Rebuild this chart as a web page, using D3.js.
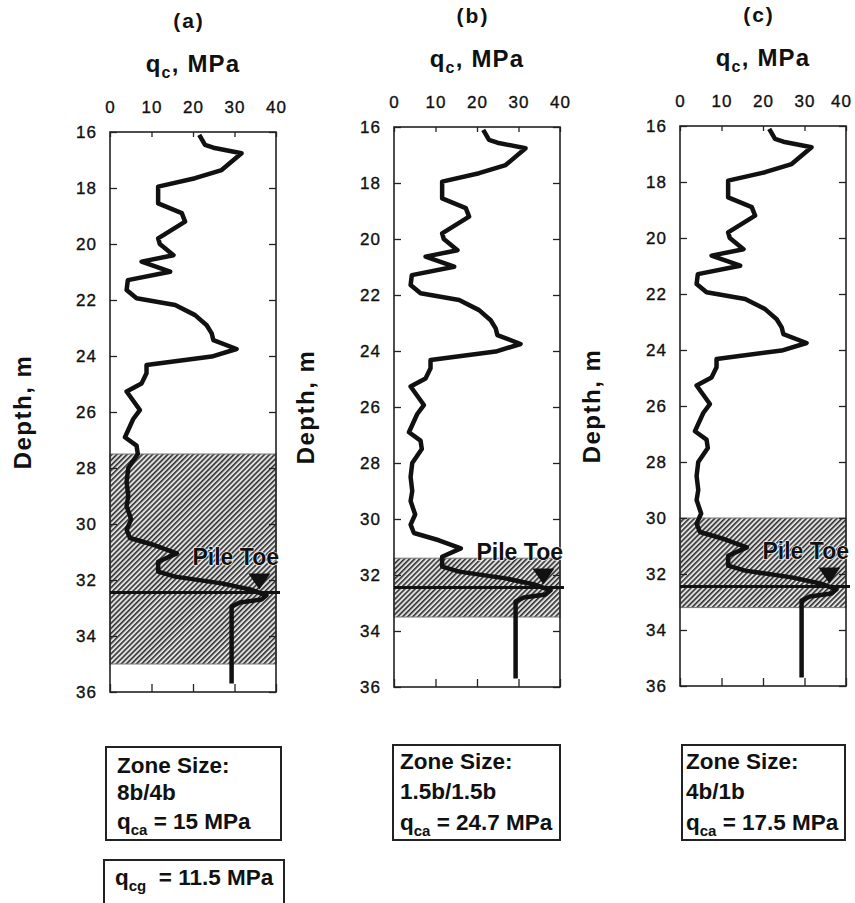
<!DOCTYPE html>
<html>
<head>
<meta charset="utf-8">
<script src="https://cdn.jsdelivr.net/npm/d3@7"></script>
<style>
  html, body { margin: 0; padding: 0; background: #fff; }
  svg { display: block; font-family: "Liberation Sans", Arial, sans-serif; }
</style>
</head>
<body>
<div id="chart"></div>
<script>
// ---- data ----
const depth = [16.1, 16.46, 16.56, 16.76, 17.36, 17.65, 17.95, 18.55, 18.9, 19.2, 19.8, 20.0, 20.4, 20.63, 20.99, 21.29, 21.64, 21.94, 22.18, 22.54, 22.9, 23.19, 23.43, 23.75, 24.02, 24.32, 24.62, 24.98, 25.27, 25.93, 26.25, 26.9, 27.2, 27.5, 28.0, 28.5, 29.0, 29.36, 29.84, 30.2, 30.5, 30.76, 31.05, 31.35, 31.7, 31.88, 32.12, 32.35, 32.55, 32.7, 32.8, 32.95, 35.7];
const qc = [21.5, 22.9, 24.9, 31.7, 26.9, 20.5, 11.6, 11.6, 17.3, 18.1, 11.6, 12.0, 15.3, 7.6, 14.5, 4.3, 4.0, 6.4, 15.7, 20.5, 23.3, 24.5, 24.9, 30.5, 24.5, 8.8, 8.8, 7.6, 4.0, 7.2, 5.6, 3.6, 6.4, 6.7, 4.4, 4.0, 4.4, 4.0, 5.1, 4.0, 4.8, 10.8, 16.1, 11.6, 11.6, 15.7, 26.9, 34.1, 37.7, 36.5, 31.3, 29.3, 29.3];
const panelLabels = ["(a)", "(b)", "(c)"];
const zoneTop = [27.5, 31.4, 30.0];
const zoneBottom = [35.0, 33.5, 33.2];
const zoneSizes = ["8b/4b", "1.5b/1.5b", "4b/1b"];
const qcaValues = ["15", "24.7", "17.5"];
const qcgValue = "11.5";
const pileToeDepth = 32.45;
const pileToeMarkerQ = 36;
const xTickValues = [0, 10, 20, 30, 40];
const yTickValues = [16, 18, 20, 22, 24, 26, 28, 30, 32, 34, 36];

// ---- layout ----
const W = 855, H = 903;
const plots = [
  {left: 110, right: 276, top: 132, bottom: 692, depthX: 31},
  {left: 394, right: 560, top: 127, bottom: 687, depthX: 314},
  {left: 680, right: 846, top: 126, bottom: 686, depthX: 600}
];
const boxes = [
  {x: 106, y: 747, w: 175, h: 93, tx: 117, lines: [773, 800, 829]},
  {x: 393, y: 745, w: 167, h: 95, tx: 400, lines: [769, 799, 830]},
  {x: 682, y: 745, w: 163, h: 95, tx: 686, lines: [769, 799, 830]}
];

const svg = d3.select("#chart").append("svg").attr("width", W).attr("height", H);

const defs = svg.append("defs");
const pat = defs.append("pattern")
  .attr("id", "hatch").attr("patternUnits", "userSpaceOnUse")
  .attr("width", 3.6).attr("height", 3.6)
  .attr("patternTransform", "rotate(45)");
pat.append("rect").attr("width", 3.6).attr("height", 3.6).attr("fill", "#e0e0e0");
pat.append("line").attr("x1", 0.8).attr("y1", 0).attr("x2", 0.8).attr("y2", 3.6)
  .attr("stroke", "#333").attr("stroke-width", 1.6);

plots.forEach((p, i) => {
  const x = d3.scaleLinear().domain([0, 40]).range([p.left, p.right]);
  const y = d3.scaleLinear().domain([16, 36]).range([p.top, p.bottom]);
  const g = svg.append("g");

  // zone
  g.append("rect")
    .attr("x", x(0)).attr("width", x(40) - x(0))
    .attr("y", y(zoneTop[i])).attr("height", y(zoneBottom[i]) - y(zoneTop[i]))
    .attr("fill", "url(#hatch)").attr("stroke", "#777").attr("stroke-width", 1);

  // axes
  const left = g.append("g").attr("transform", `translate(${p.left},0)`)
    .call(d3.axisLeft(y).tickValues(yTickValues).tickSize(-7).tickPadding(13));
  const right = g.append("g").attr("transform", `translate(${p.right},0)`)
    .call(d3.axisRight(y).tickValues(yTickValues).tickSize(-7).tickFormat(""));
  const top = g.append("g").attr("transform", `translate(0,${p.top})`)
    .call(d3.axisTop(x).tickValues(xTickValues).tickSize(-5).tickPadding(19));
  const bottom = g.append("g").attr("transform", `translate(0,${p.bottom})`)
    .call(d3.axisBottom(x).tickValues(xTickValues).tickSize(-8).tickFormat(""));
  [left, right, top, bottom].forEach(a => {
    a.select(".domain").remove();
    a.selectAll("line").attr("stroke", "#222").attr("stroke-width", 1.3);
    a.selectAll("text").attr("fill", "#111").attr("font-size", 17)
      .attr("stroke", "#111").attr("stroke-width", 0.35)
      .attr("letter-spacing", 1).attr("font-family", "'Liberation Sans', Arial, sans-serif");
  });
  left.selectAll("text").attr("dy", "0.34em");
  if (i === 2) top.selectAll("text").filter(d => d === 40).attr("dx", -5);

  // frame
  g.append("rect").attr("x", p.left).attr("y", p.top)
    .attr("width", p.right - p.left).attr("height", p.bottom - p.top)
    .attr("fill", "none").attr("stroke", "#222").attr("stroke-width", 1.6);

  // curve
  const pts = depth.map((d, k) => [qc[k], d]);
  g.append("path").datum(pts)
    .attr("d", d3.line().x(d => x(d[0])).y(d => y(d[1])))
    .attr("fill", "none").attr("stroke", "#111").attr("stroke-width", 4.5)
    .attr("stroke-linejoin", "round").attr("stroke-linecap", "butt");

  // pile toe line
  g.append("line").attr("x1", x(0)).attr("x2", x(40) + 4)
    .attr("y1", y(pileToeDepth)).attr("y2", y(pileToeDepth))
    .attr("stroke", "#111").attr("stroke-width", 3);

  // marker
  const ty = y(pileToeDepth) - 3, tx = x(pileToeMarkerQ);
  g.append("path").attr("d", `M${tx - 11},${ty - 16} L${tx + 11},${ty - 16} L${tx},${ty} Z`)
    .attr("fill", "#111");

  g.append("text").attr("x", x(40) + 3).attr("y", y(pileToeDepth) - 28)
    .attr("text-anchor", "end").attr("font-size", 23).attr("font-weight", "bold")
    .attr("fill", "#111").attr("stroke", "#fff").attr("stroke-width", 1.2)
    .attr("paint-order", "stroke")
    .text("Pile Toe");

  // titles
  const cx = (p.left + p.right) / 2;
  svg.append("text").attr("x", cx - 4).attr("y", p.top - 104)
    .attr("text-anchor", "middle").attr("font-size", 21).attr("font-weight", "bold")
    .attr("letter-spacing", 2).attr("fill", "#111").text(panelLabels[i]);

  const t = svg.append("text").attr("x", cx).attr("y", p.top - 60)
    .attr("text-anchor", "middle").attr("font-size", 24).attr("font-weight", "bold")
    .attr("letter-spacing", 1.2).attr("fill", "#111");
  t.append("tspan").text("q");
  t.append("tspan").attr("font-size", 16).attr("dy", 6).text("c");
  t.append("tspan").attr("dy", -6).text(", MPa");

  // depth label
  svg.append("text")
    .attr("transform", `translate(${p.depthX},${(p.top + p.bottom) / 2}) rotate(-90)`)
    .attr("text-anchor", "middle").attr("font-size", 24).attr("font-weight", "bold")
    .attr("letter-spacing", 1.5).attr("fill", "#111").text("Depth, m");

  // info box
  const b = boxes[i];
  svg.append("rect").attr("x", b.x).attr("y", b.y).attr("width", b.w).attr("height", b.h)
    .attr("fill", "none").attr("stroke", "#222").attr("stroke-width", 2);
  const fs = {"font-size": 22.5, "font-weight": "bold", "fill": "#111"};
  const tt = (yy) => {
    const e = svg.append("text").attr("x", b.tx).attr("y", yy);
    Object.entries(fs).forEach(([k, v]) => e.attr(k, v));
    return e;
  };
  tt(b.lines[0]).text("Zone Size:");
  tt(b.lines[1]).text(zoneSizes[i]);
  const q = tt(b.lines[2]);
  q.append("tspan").text("q");
  q.append("tspan").attr("font-size", 15).attr("dy", 6).text("ca");
  q.append("tspan").attr("dy", -6).text(` = ${qcaValues[i]} MPa`);
});

// qcg box for panel (a)
svg.append("rect").attr("x", 104).attr("y", 860).attr("width", 180).attr("height", 60)
  .attr("fill", "none").attr("stroke", "#222").attr("stroke-width", 2);
const g2 = svg.append("text").attr("x", 115).attr("y", 885)
  .attr("font-size", 22.5).attr("font-weight", "bold").attr("fill", "#111");
g2.append("tspan").text("q");
g2.append("tspan").attr("font-size", 15).attr("dy", 6).text("cg");
g2.append("tspan").attr("dy", -6).text("\u00a0 = " + qcgValue + " MPa");
</script>
</body>
</html>
